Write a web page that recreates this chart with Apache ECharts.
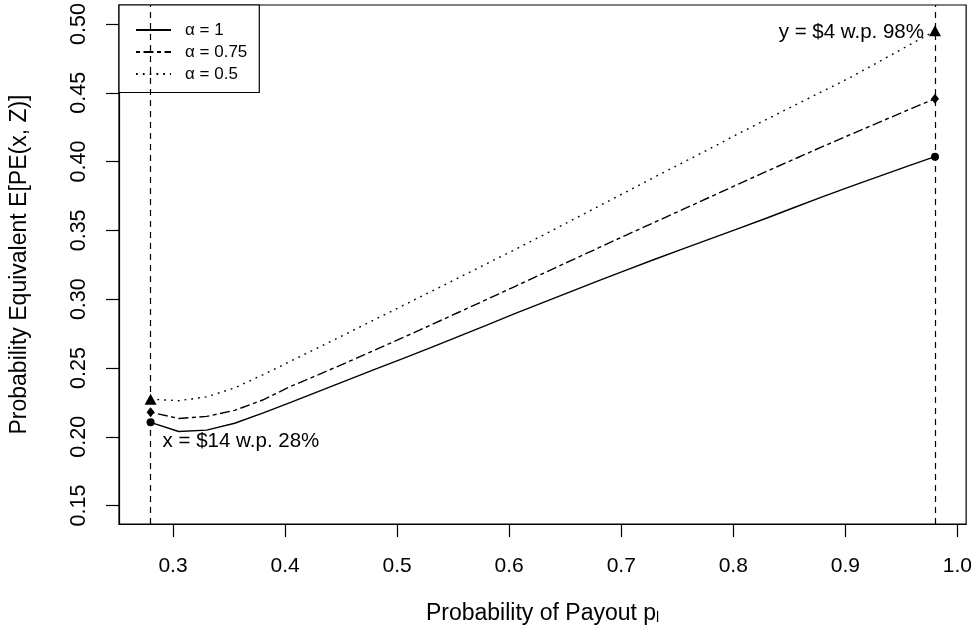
<!DOCTYPE html>
<html>
<head>
<meta charset="utf-8">
<script src="https://cdn.jsdelivr.net/npm/echarts@6/dist/echarts.min.js"></script>
<style>
  html, body { margin: 0; padding: 0; background: #fff; }
  #chart { width: 975px; height: 634px; }
</style>
</head>
<body>
<div id="chart"></div>
<script>
    // probability of payout (x axis)
    const payoutProb = [0.28, 0.305, 0.33, 0.355, 0.38, 0.405, 0.43, 0.455, 0.48, 0.505,
        0.53, 0.555, 0.58, 0.605, 0.63, 0.655, 0.68, 0.705, 0.73, 0.755,
        0.78, 0.805, 0.83, 0.855, 0.88, 0.905, 0.93, 0.955, 0.98];

    // expected probability equivalent, one array per alpha
    const peAlpha1 = [0.2105, 0.2038, 0.2048, 0.2098, 0.2172, 0.2250, 0.2330, 0.2410, 0.2490, 0.2568,
        0.2648, 0.2730, 0.2812, 0.2895, 0.2975, 0.3055, 0.3135, 0.3213, 0.3290, 0.3365,
        0.3440, 0.3515, 0.3590, 0.3668, 0.3745, 0.3820, 0.3892, 0.3965, 0.4036];
    const peAlpha075 = [0.2178, 0.2133, 0.2148, 0.2192, 0.2267, 0.2366, 0.2452, 0.2540, 0.2630, 0.2720,
        0.2812, 0.2905, 0.2998, 0.3092, 0.3186, 0.3280, 0.3374, 0.3468, 0.3560, 0.3652,
        0.3745, 0.3838, 0.3930, 0.4020, 0.4110, 0.4198, 0.4285, 0.4372, 0.4457];
    const peAlpha05 = [0.2273, 0.2262, 0.2290, 0.2355, 0.2450, 0.2550, 0.2650, 0.2750, 0.2852, 0.2953,
        0.3054, 0.3156, 0.3258, 0.3360, 0.3464, 0.3570, 0.3676, 0.3782, 0.3888, 0.3993,
        0.4097, 0.4205, 0.4308, 0.4410, 0.4512, 0.4614, 0.4726, 0.4838, 0.4950];

    const xTicks = [0.3, 0.4, 0.5, 0.6, 0.7, 0.8, 0.9, 1.0];
    const yTicks = [0.15, 0.20, 0.25, 0.30, 0.35, 0.40, 0.45, 0.50];

    const seriesNames = ['α = 1', 'α = 0.75', 'α = 0.5'];
    const leftNote = 'x = $14 w.p. 28%';
    const rightNote = 'y = $4 w.p. 98%';

    const FONT = 'Liberation Sans, Arial, Helvetica, sans-serif';

    function pairs(ys) {
        return payoutProb.map((x, i) => [x, ys[i]]);
    }

    function ends(ys) {
        const n = payoutProb.length - 1;
        return [[payoutProb[0], ys[0]], [payoutProb[n], ys[n]]];
    }

    function lineSeries(name, ys, dash) {
        return {
            name: name,
            type: 'line',
            data: pairs(ys),
            symbol: 'none',
            showSymbol: false,
            lineStyle: { color: '#000', width: 1.4, type: dash },
            itemStyle: { color: '#000' },
            z: 3
        };
    }

    function endSeries(ys, symbol, size, labels) {
        const pts = ends(ys).map((p, i) => {
            const item = { value: p };
            if (labels && labels[i]) item.label = labels[i];
            return item;
        });
        return {
            type: 'scatter',
            data: pts,
            symbol: symbol,
            symbolSize: size,
            itemStyle: { color: '#000', opacity: 1 },
            label: { show: false },
            z: 4
        };
    }

    const chart = echarts.init(document.getElementById('chart'), null, { renderer: 'canvas' });

    const n = payoutProb.length - 1;

    const solid = lineSeries(seriesNames[0], peAlpha1, 'solid');
    // vertical reference lines at the two extreme payout probabilities
    solid.markLine = {
        silent: true,
        symbol: ['none', 'none'],
        label: { show: false },
        lineStyle: { color: '#000', width: 1.2, type: [6, 5] },
        data: [{ xAxis: payoutProb[0] }, { xAxis: payoutProb[n] }]
    };

    const noteStyle = { fontSize: 20.5, fontFamily: FONT, color: '#000', opacity: 1 };

    const option = {
        animation: false,
        backgroundColor: '#fff',
        textStyle: { fontFamily: FONT, color: '#000' },
        grid: {
            left: 119, top: 5, width: 848, height: 519,
            show: true, borderColor: '#000', borderWidth: 1.2, backgroundColor: 'transparent'
        },
        legend: {
            data: seriesNames,
            orient: 'vertical',
            left: 119, top: 5,
            backgroundColor: '#fff',
            borderColor: '#000',
            borderWidth: 1.2,
            borderRadius: 0,
            padding: [16.5, 12, 10, 16],
            itemWidth: 35,
            itemHeight: 14,
            itemGap: 5,
            itemStyle: { opacity: 0 },
            textStyle: { fontSize: 17, fontFamily: FONT, color: '#000', lineHeight: 15, padding: [0, 0, 0, 9] },
            selectedMode: false
        },
        xAxis: {
            type: 'value',
            min: 0.2518,
            max: 1.0078,
            name: '{a|Probability of Payout p}{s|l}',
            nameLocation: 'middle',
            nameGap: 78,
            nameTextStyle: {
                rich: {
                    a: { fontSize: 23, fontFamily: FONT, color: '#000', lineHeight: 23, verticalAlign: 'top' },
                    s: { fontSize: 14, fontFamily: FONT, color: '#000', lineHeight: 14, padding: [11, 0, 0, 0], verticalAlign: 'bottom' }
                }
            },
            axisLine: { show: true, lineStyle: { color: '#000', width: 1.2 } },
            axisTick: { show: true, length: 13, lineStyle: { color: '#000', width: 1.2 }, customValues: xTicks },
            axisLabel: {
                customValues: xTicks,
                fontSize: 21, fontFamily: FONT, color: '#000', margin: 32,
                formatter: v => v.toFixed(1)
            },
            splitLine: { show: false }
        },
        yAxis: {
            type: 'value',
            min: 0.1366,
            max: 0.5138,
            name: 'Probability Equivalent E[PE(x, Z)]',
            nameLocation: 'middle',
            nameRotate: 90,
            nameGap: 88,
            nameTextStyle: { fontSize: 23, fontFamily: FONT, color: '#000' },
            axisLine: { show: true, lineStyle: { color: '#000', width: 1.2 } },
            axisTick: { show: true, length: 13, lineStyle: { color: '#000', width: 1.2 }, customValues: yTicks },
            axisLabel: {
                customValues: yTicks,
                rotate: 90,
                fontSize: 21.5, fontFamily: FONT, color: '#000', margin: 29,
                formatter: v => v.toFixed(2)
            },
            splitLine: { show: false }
        },
        series: [
            solid,
            lineSeries(seriesNames[1], peAlpha075, [4, 3.5, 10, 3.5]),
            lineSeries(seriesNames[2], peAlpha05, [1.8, 5]),
            endSeries(peAlpha1, 'circle', 8, [
                { show: true, formatter: leftNote, position: 'right', distance: 0, offset: [8, 19], ...noteStyle },
                null
            ]),
            endSeries(peAlpha075, 'diamond', [8, 10], null),
            endSeries(peAlpha05, 'triangle', [12, 11], [
                null,
                { show: true, formatter: rightNote, position: 'left', distance: 5, offset: [0, 1], ...noteStyle }
            ])
        ]
    };

    chart.setOption(option);
</script>
</body>
</html>
